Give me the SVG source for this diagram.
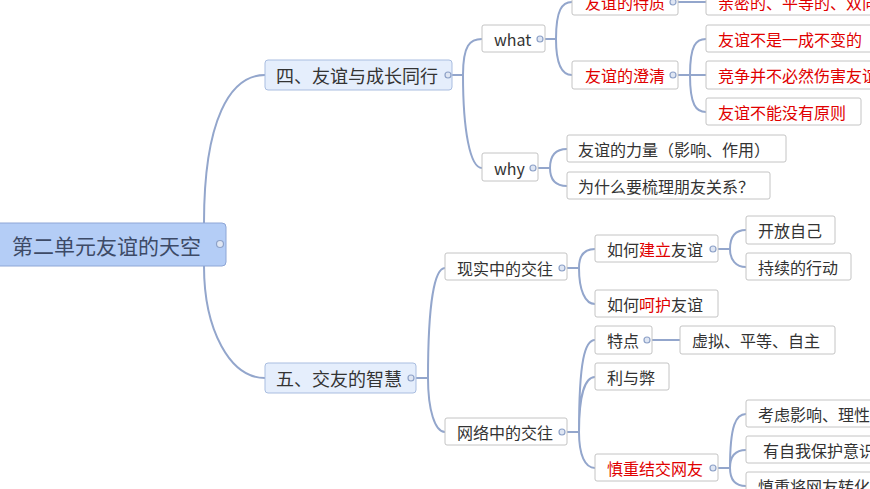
<svg xmlns="http://www.w3.org/2000/svg" width="870" height="489" viewBox="0 0 870 489">
<style>
text{font-family:"Noto Sans CJK SC","Liberation Sans",sans-serif;fill:#333;dominant-baseline:central}
.n{fill:#fff;stroke:#c4c4c4;stroke-width:1}
.l1{fill:#e5eefc;stroke:#a9bde0;stroke-width:1}
.t{font-size:16px}
.t1{font-size:18px}
.r{fill:#e00000}
.c{fill:#dfe6f3;stroke:#8ea2c8;stroke-width:1.2}
#edges path{fill:none;stroke:#93a6cc;stroke-width:2}
</style>
<rect width="870" height="489" fill="#fff"/>
<g id="edges">
<path d="M204,223 C204,120 230,75 265,75"/>
<path d="M204,266 C204,330 230,378 265,378"/>
<path d="M452,75 H463 M463,75 C463,45 470,39 482,39 M463,75 C463,130 470,168 482,168"/>
<path d="M545,39 H556 M556,39 C556,10 562,2 572,2 M556,39 C556,65 562,75 572,75"/>
<path d="M678,2 H706"/>
<path d="M678,75 H690 M690,75 C690,45 696,39 706,39 M690,75 H706 M690,75 C690,105 696,112 706,112"/>
<path d="M538,168 H550 M550,168 C550,155 556,149 567,149 M550,168 C550,180 556,186 567,186"/>
<path d="M416,378 H428 M428,378 C428,300 435,268 445,268 M428,378 C428,410 435,432 445,432"/>
<path d="M567,268 H579 M579,268 C579,255 585,249 595,249 M579,268 C579,290 585,304 595,304"/>
<path d="M718,249 H730 M730,249 C730,236 736,230 746,230 M730,249 C730,260 736,267 746,267"/>
<path d="M567,432 H579 M579,432 C579,360 585,340 595,340 M579,432 C579,395 585,377 595,377 M579,432 C579,455 585,468 595,468"/>
<path d="M652,340 H680"/>
<path d="M718,468 H730 M730,468 C730,425 736,414 746,414 M730,468 C730,455 736,450 746,450 M730,468 C730,480 736,486 746,486"/>
</g>
<g id="root"><rect x="-5" y="223" width="231" height="43" rx="4" fill="#b4cdf6" stroke="#8ea6d6"/><text x="12" y="245" style="font-size:21px;fill:#3d4a66">第二单元友谊的天空</text><circle class="c" cx="220" cy="244" r="3.5"/></g>
<g id="n4"><rect class="l1" x="265" y="60" width="187" height="30" rx="3"/><text class="t1" x="276" y="75">四、友谊与成长同行</text><circle class="c" cx="448" cy="75" r="3"/></g>
<g id="n5"><rect class="l1" x="265" y="363" width="151" height="30" rx="3"/><text class="t1" x="276" y="378">五、交友的智慧</text><circle class="c" cx="411" cy="378" r="3"/></g>
<g id="what"><rect class="n" x="482" y="25" width="63" height="27" rx="2"/><text class="t" x="494" y="39">what</text><circle class="c" cx="540" cy="39" r="3"/></g>
<g id="why"><rect class="n" x="482" y="153" width="56" height="28" rx="2"/><text class="t" x="494" y="168">why</text><circle class="c" cx="533" cy="168" r="3"/></g>
<g id="tz"><rect class="n" x="572" y="-12" width="106" height="27" rx="2"/><text class="t r" x="585" y="2">友谊的特质</text><circle class="c" cx="673" cy="2" r="3"/></g>
<g id="tz1"><rect class="n" x="706" y="-12" width="170" height="27" rx="2"/><text class="t r" x="718" y="2">亲密的、平等的、双向</text></g>
<g id="cq"><rect class="n" x="572" y="61" width="106" height="28" rx="2"/><text class="t r" x="585" y="75">友谊的澄清</text><circle class="c" cx="673" cy="75" r="3"/></g>
<g id="cq1"><rect class="n" x="706" y="25" width="170" height="27" rx="2"/><text class="t r" x="718" y="39">友谊不是一成不变的</text></g>
<g id="cq2"><rect class="n" x="706" y="61" width="170" height="28" rx="2"/><text class="t r" x="718" y="75">竞争并不必然伤害友谊</text></g>
<g id="cq3"><rect class="n" x="706" y="98" width="155" height="27" rx="2"/><text class="t r" x="718" y="112">友谊不能没有原则</text></g>
<g id="w1"><rect class="n" x="567" y="135" width="219" height="27" rx="2"/><text class="t" x="578" y="149">友谊的力量（影响、作用）</text></g>
<g id="w2"><rect class="n" x="567" y="172" width="203" height="27" rx="2"/><text class="t" x="578" y="186">为什么要梳理朋友关系？</text></g>
<g id="xs"><rect class="n" x="445" y="253" width="122" height="27" rx="2"/><text class="t" x="457" y="268">现实中的交往</text><circle class="c" cx="562" cy="268" r="3"/></g>
<g id="wl"><rect class="n" x="445" y="418" width="122" height="27" rx="2"/><text class="t" x="457" y="432">网络中的交往</text><circle class="c" cx="562" cy="432" r="3"/></g>
<g id="jl"><rect class="n" x="595" y="235" width="123" height="27" rx="2"/><text class="t" x="607" y="249">如何<tspan class="r">建立</tspan>友谊</text><circle class="c" cx="713" cy="249" r="3"/></g>
<g id="hh"><rect class="n" x="595" y="290" width="123" height="27" rx="2"/><text class="t" x="607" y="304">如何<tspan class="r">呵护</tspan>友谊</text></g>
<g id="kf"><rect class="n" x="746" y="216" width="89" height="28" rx="2"/><text class="t" x="758" y="230">开放自己</text></g>
<g id="cx"><rect class="n" x="746" y="253" width="105" height="27" rx="2"/><text class="t" x="758" y="267">持续的行动</text></g>
<g id="td"><rect class="n" x="595" y="326" width="57" height="28" rx="2"/><text class="t" x="607" y="340">特点</text><circle class="c" cx="647" cy="340" r="3"/></g>
<g id="xn"><rect class="n" x="680" y="326" width="155" height="28" rx="2"/><text class="t" x="692" y="340">虚拟、平等、自主</text></g>
<g id="lb"><rect class="n" x="595" y="363" width="74" height="27" rx="2"/><text class="t" x="607" y="377">利与弊</text></g>
<g id="sz"><rect class="n" x="595" y="454" width="123" height="27" rx="2"/><text class="t r" x="607" y="468">慎重结交网友</text><circle class="c" cx="713" cy="468" r="3"/></g>
<g id="s1"><rect class="n" x="746" y="400" width="140" height="27" rx="2"/><text class="t" x="758" y="414">考虑影响、理性</text></g>
<g id="s2"><rect class="n" x="746" y="436" width="140" height="27" rx="2"/><text class="t" x="763" y="450">有自我保护意识</text></g>
<g id="s3"><rect class="n" x="746" y="472" width="140" height="27" rx="2"/><text class="t" x="758" y="486">慎重将网友转化</text></g>
</svg>
